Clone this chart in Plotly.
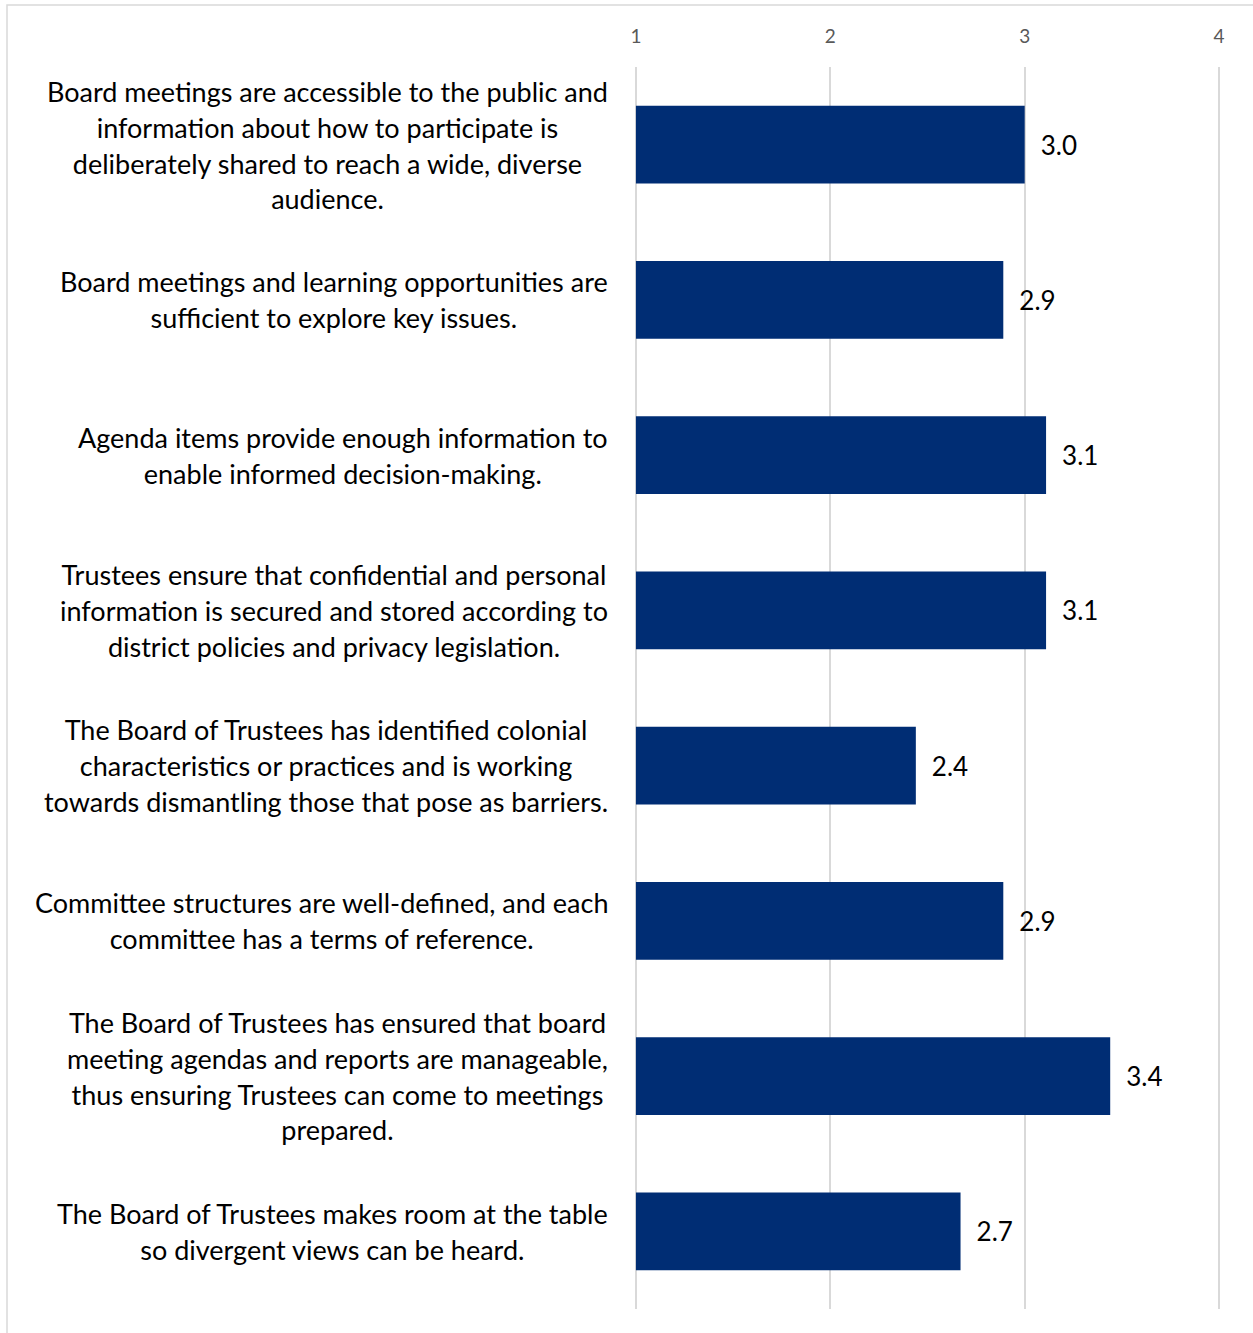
import plotly.graph_objects as go

categories = [
    "Board meetings are accessible to the public and<br>information about how to participate is<br>deliberately shared to reach a wide, diverse<br>audience.",
    "Board meetings and learning opportunities are<br>sufficient to explore key issues.",
    "Agenda items provide enough information to<br>enable informed decision-making.",
    "Trustees ensure that confidential and personal<br>information is secured and stored according to<br>district policies and privacy legislation.",
    "The Board of Trustees has identified colonial<br>characteristics or practices and is working<br>towards dismantling those that pose as barriers.",
    "Committee structures are well-defined, and each<br>committee has a terms of reference.",
    "The Board of Trustees has ensured that board<br>meeting agendas and reports are manageable,<br>thus ensuring Trustees can come to meetings<br>prepared.",
    "The Board of Trustees makes room at the table<br>so divergent views can be heard.",
]
values = [3.0, 2.89, 3.11, 3.11, 2.44, 2.89, 3.44, 2.67]
tick_vals = [1, 2, 3, 4]
scale_min = 1

FONT = "Lato"
LBL = 27

fig = go.Figure()
fig.add_trace(go.Bar(
    y=list(range(len(categories))),
    x=[v - scale_min for v in values],
    base=scale_min,
    orientation="h",
    marker=dict(color="#002D74", line=dict(width=0)),
    width=0.5,
    text=values,
    texttemplate="\u2002%{text:.1f}",
    textposition="outside",
    textfont=dict(family=FONT, size=26, color="#000000"),
    cliponaxis=False,
    constraintext="none",
    hoverinfo="skip",
))

for i, cat in enumerate(categories):
    lines = cat.split("<br>")
    txt = "<br>".join(f'<span style="font-size:{LBL}px">{l}</span>' for l in lines)
    fig.add_annotation(
        x=0, xref="paper", y=i, yref="y",
        text=txt, showarrow=False,
        xanchor="right", yanchor="middle", align="center",
        xshift=-24,
        font=dict(family=FONT, size=27.5, color="#000000"),
    )

fig.add_shape(
    type="rect", xref="paper", yref="paper",
    xsizemode="pixel", ysizemode="pixel", xanchor=0, yanchor=1,
    x0=-627, x1=660, y0=62, y1=-1300,
    line=dict(color="#d9d9d9", width=1.5), fillcolor="rgba(0,0,0,0)",
    layer="below",
)

fig.update_layout(
    width=1253, height=1333,
    margin=dict(l=634, r=32, t=67, b=24),
    paper_bgcolor="white", plot_bgcolor="white",
    showlegend=False,
    xaxis=dict(
        range=[0.99, 4.01], side="top", tickvals=tick_vals,
        showgrid=True, gridcolor="#d9d9d9", gridwidth=2,
        zeroline=False, showline=False, ticks="",
        tickfont=dict(family=FONT, size=19, color="#595959"),
        ticklabelstandoff=19,
    ),
    yaxis=dict(
        range=[len(categories) - 0.5, -0.5],
        showticklabels=False, showgrid=False, zeroline=False, showline=False, ticks="",
    ),
)

fig.write_html("out.html")
